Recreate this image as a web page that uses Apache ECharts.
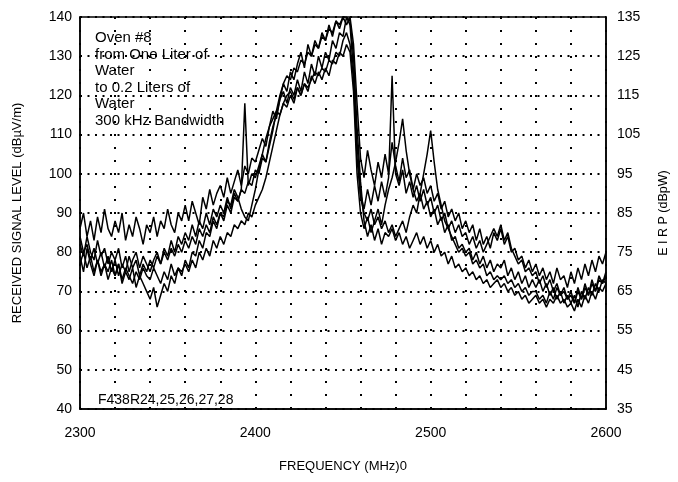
<!DOCTYPE html>
<html>
<head>
<meta charset="utf-8">
<script src="https://cdn.jsdelivr.net/npm/echarts@6/dist/echarts.min.js"></script>
<style>
  html, body { margin: 0; padding: 0; background: #fff; }
  #chart { width: 678px; height: 482px; }
</style>
</head>
<body>
<div id="chart"></div>
<script>
// Frequency sampling of the traces (MHz)
const freqStart = 2300;
const freqStep = 2;

const traceR24 = [
  86, 90, 84, 88, 83, 89, 85, 91, 86, 84,
  88, 85, 90, 83, 87, 84, 89, 86, 82, 87,
  85, 89, 84, 88, 86, 91, 87, 85, 90, 88,
  92, 88, 93, 90, 87, 94, 91, 96, 92, 95,
  97, 94, 99, 95, 98, 101, 97, 102, 100, 104,
  103, 106, 109, 107, 112, 116, 114, 119, 123, 121,
  126, 124, 128, 131, 127, 133, 130, 134, 132, 136,
  134, 138, 135, 139, 137, 140, 138, 140, 133, 118,
  104, 99, 106, 101, 97, 103, 99, 105, 100, 108,
  102, 98, 104, 99, 101, 96, 100, 97, 99, 95,
  97, 93, 95, 91, 93, 89, 91, 88, 90, 86,
  88, 85, 87, 83, 86, 82, 84, 81, 85, 83,
  86, 82, 84, 80, 81, 78, 79, 76, 78, 75,
  77, 74, 76, 73, 75, 72, 76, 73, 74, 71,
  75, 72, 76, 73, 77, 74, 78, 75, 79, 77,
  80
];
const traceR25 = [
  82, 79, 84, 80, 78, 83, 79, 81, 77, 80,
  78, 81, 76, 79, 75, 78, 80, 76, 79, 77,
  75, 78, 80, 77, 81, 79, 83, 80, 84, 82,
  85, 83, 87, 84, 88, 86, 90, 87, 91, 89,
  92, 90, 94, 91, 95, 93, 96, 118, 97, 100,
  99, 102, 105, 103, 108, 112, 115, 119, 121, 118,
  122, 120, 124, 121, 126, 123, 128, 125, 130, 127,
  131, 129, 134, 132, 136, 135, 140, 138, 126, 108,
  95, 91, 96, 92, 97, 93, 98, 94, 99, 125,
  100, 97, 101, 95, 98, 94, 97, 93, 96, 92,
  94, 90, 92, 88, 90, 86, 88, 85, 87, 84,
  85, 82, 84, 81, 83, 80, 82, 84, 86, 84,
  87, 83, 85, 81, 79, 77, 78, 75, 76, 74,
  75, 72, 74, 71, 73, 70, 72, 69, 71, 68,
  70, 67, 71, 68, 72, 69, 73, 70, 74, 72,
  75
];
const traceR26 = [
  79, 75, 81, 77, 74, 78, 75, 77, 73, 76,
  74, 77, 72, 75, 73, 76, 71, 74, 72, 70,
  68, 71, 66, 69, 72, 70, 74, 72, 76, 74,
  78, 76, 80, 79, 83, 81, 85, 84, 88, 86,
  90, 89, 93, 92, 96, 94, 91, 89, 88, 92,
  96, 101, 105, 109, 112, 114, 116, 115, 118, 117,
  120, 118, 122, 120, 123, 121, 125, 123, 126, 124,
  127, 125, 129, 128, 131, 130, 133, 131, 121, 100,
  90, 86, 89, 85, 88, 91, 87, 92, 96, 99,
  103, 108, 114, 106, 100, 96, 93, 95, 91, 93,
  89, 91, 87, 89, 85, 87, 83, 84, 81, 82,
  80, 81, 78, 80, 77, 79, 76, 78, 75, 77,
  76, 78, 74, 76, 73, 75, 72, 74, 71, 73,
  71, 73, 70, 72, 69, 71, 68, 70, 67, 69,
  67, 69, 66, 70, 68, 71, 69, 72, 70, 73,
  72
];
const traceR27 = [
  77, 80, 76, 79, 75, 78, 74, 77, 75, 78,
  74, 77, 73, 76, 74, 72, 75, 73, 76, 74,
  73, 76, 74, 72, 75, 73, 77, 74, 76, 75,
  77, 75, 78, 76, 80, 78, 81, 79, 83, 81,
  84, 82, 85, 84, 87, 86, 88, 87, 90, 89,
  92, 94, 96, 99, 103, 107, 111, 115, 118, 120,
  121, 119, 122, 120, 123, 122, 124, 126, 125, 127,
  126, 129, 128, 131, 130, 134, 136, 133, 124, 104,
  94, 90, 88, 91, 87, 89, 86, 88, 85, 87,
  84, 86, 88, 85, 89, 92, 90, 95, 100, 105,
  111, 103, 96, 92, 88, 86, 84, 82, 80, 81,
  79, 80, 77, 78, 76, 77, 74, 75, 73, 74,
  73, 74, 72, 73, 71, 72, 70, 71, 69, 70,
  70, 68, 69, 67, 70, 68, 71, 69, 70, 68,
  69, 67, 70, 68, 71, 69, 72, 70, 73, 72,
  74
];
const traceR28 = [
  84, 80, 82, 78, 81, 77, 80, 76, 79, 75,
  78, 74, 77, 75, 79, 76, 78, 74, 77, 75,
  78, 76, 79, 77, 80, 78, 81, 79, 82, 80,
  83, 81, 84, 82, 86, 84, 87, 85, 89, 87,
  90, 88, 92, 90, 94, 93, 96, 95, 98, 97,
  101, 100, 104, 103, 107, 111, 116, 120, 123, 125,
  124, 127, 126, 129, 128, 131, 130, 133, 132, 135,
  134, 137, 136, 139, 138, 140, 140, 139, 130, 112,
  98, 88, 84, 87, 83, 86, 82, 85, 84, 86,
  83, 85, 82, 84, 81, 83, 85, 82, 84, 81,
  83, 80, 82, 79, 80, 77, 79, 76, 77, 75,
  76, 74, 75, 73, 74, 72, 73, 71, 72, 73,
  71, 72, 70, 71, 69, 70, 68, 69, 67, 68,
  69, 67, 68, 66, 68, 67, 69, 67, 68, 66,
  67, 65, 68, 66, 69, 67, 70, 68, 71, 70,
  72
];
const traceNames = ['R24', 'R25', 'R26', 'R27', 'R28'];
const traces = [traceR24, traceR25, traceR26, traceR27, traceR28];

// Annotation texts
const annotationLines = ['Oven #8', 'from One Liter of', 'Water', 'to 0.2 Liters of', 'Water', '300 kHz Bandwidth'];
const runLabel = 'F438R24,25,26,27,28';

const FONT = "'Liberation Sans', Arial, sans-serif";

function toPairs(vals) {
  return vals.map((v, i) => [freqStart + i * freqStep, v]);
}

const chart = echarts.init(document.getElementById('chart'), null, { renderer: 'canvas' });

const option = {
  animation: false,
  backgroundColor: '#ffffff',
  textStyle: { fontFamily: FONT, color: '#000' },
  grid: {
    left: 80, right: 66, top: 17, bottom: 73,
    show: true, borderColor: '#000', borderWidth: 1.5, backgroundColor: 'transparent'
  },
  xAxis: {
    type: 'value', min: 2300, max: 2600, interval: 20,
    name: 'FREQUENCY (MHz)0', nameLocation: 'middle', nameGap: 51,
    nameTextStyle: { fontFamily: FONT, fontSize: 13, color: '#000' },
    axisLine: { lineStyle: { color: '#000', width: 1.5 } },
    axisTick: { show: false },
    axisLabel: {
      fontFamily: FONT, fontSize: 14, color: '#000', margin: 17,
      showMinLabel: true, showMaxLabel: true,
      formatter: v => (v % 100 === 0 ? String(v) : '')
    },
    splitLine: { show: true, lineStyle: { color: '#000', width: 2, type: [2, 11] } }
  },
  yAxis: [
    {
      type: 'value', min: 40, max: 140, interval: 10, position: 'left',
      name: 'RECEIVED SIGNAL LEVEL (dBµV/m)', nameLocation: 'middle', nameGap: 56, nameRotate: 90,
      nameTextStyle: { fontFamily: FONT, fontSize: 13, color: '#000' },
      axisLine: { show: true, lineStyle: { color: '#000', width: 1.5 } },
      axisTick: { show: false },
      axisLabel: { fontFamily: FONT, fontSize: 14, color: '#000', margin: 8 },
      splitLine: { show: true, lineStyle: { color: '#000', width: 2, type: [2, 5.5] } }
    },
    {
      type: 'value', min: 35, max: 135, interval: 10, position: 'right',
      name: 'E I R P (dBpW)', nameLocation: 'middle', nameGap: 51, nameRotate: 90,
      nameTextStyle: { fontFamily: FONT, fontSize: 12.5, color: '#000' },
      axisLine: { show: true, lineStyle: { color: '#000', width: 1.5 } },
      axisTick: { show: false },
      axisLabel: { fontFamily: FONT, fontSize: 14, color: '#000', margin: 11 },
      splitLine: { show: false }
    }
  ],
  series: traces.map((t, k) => ({
    name: traceNames[k],
    type: 'line',
    yAxisIndex: 0,
    data: toPairs(t),
    symbol: 'none',
    clip: true,
    lineStyle: { color: '#000', width: 1.5 },
    z: 3
  })),
  graphic: [
    {
      type: 'text', left: 95, top: 30, z: 10,
      style: {
        text: annotationLines.join('\n'), fontFamily: FONT, fontSize: 15,
        lineHeight: 16.5, fill: '#000'
      }
    },
    {
      type: 'text', left: 98, top: 393, z: 10,
      style: { text: runLabel, fontFamily: FONT, fontSize: 14, fill: '#000' }
    }
  ]
};

chart.setOption(option);
</script>
</body>
</html>
